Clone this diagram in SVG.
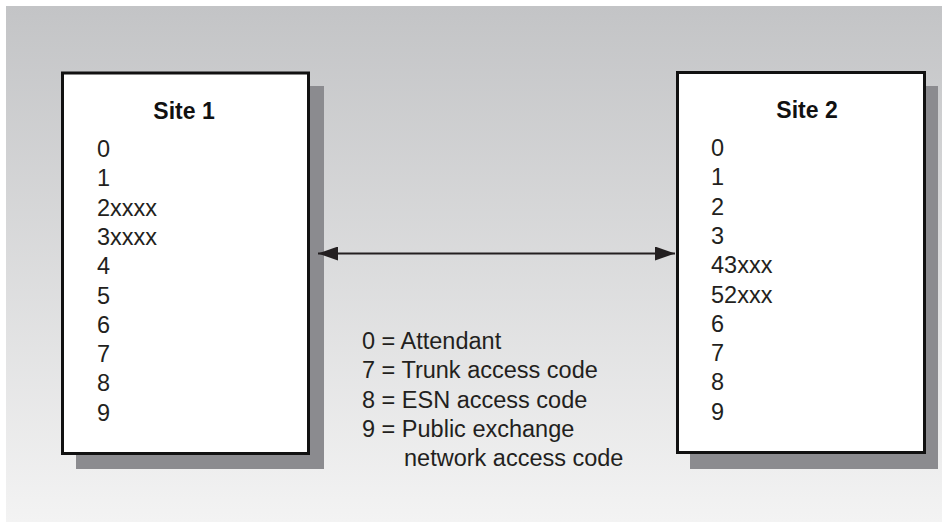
<svg xmlns="http://www.w3.org/2000/svg" width="943" height="522" viewBox="0 0 943 522">
  <defs>
    <linearGradient id="bg" x1="0" y1="0" x2="0" y2="1">
      <stop offset="0" stop-color="#c3c4c6"/>
      <stop offset="1" stop-color="#f3f3f3"/>
    </linearGradient>
    <marker id="ah" viewBox="0 0 20 14" refX="20" refY="7" markerWidth="20" markerHeight="14" markerUnits="userSpaceOnUse" orient="auto-start-reverse">
      <path d="M0,0 L20,7 L0,14 Z" fill="#231f20"/>
    </marker>
    <style>
      .shadow { fill: #8b8b8f; }
      .box { fill: #ffffff; stroke: #111111; stroke-width: 3; }
      .title { font-family: "Liberation Sans", Arial, sans-serif; font-size: 23px; font-weight: bold; fill: #111111; text-anchor: middle; }
      .item { font-family: "Liberation Sans", Arial, sans-serif; font-size: 23.5px; fill: #231f20; }
      .conn { stroke: #231f20; stroke-width: 2.2; fill: none; }
    </style>
  </defs>
  <rect x="0" y="0" width="943" height="522" fill="#ffffff"/>
  <rect x="6" y="6" width="936" height="516" fill="url(#bg)"/>

  <g id="site1">
    <rect class="shadow" x="76" y="86" width="248" height="383"/>
    <rect class="box" x="62.5" y="73" width="246" height="380.5"/>
    <text class="title" x="184" y="119">Site 1</text>
    <text class="item" x="97" y="157">0</text>
    <text class="item" x="97" y="186.3">1</text>
    <text class="item" x="97" y="215.6">2xxxx</text>
    <text class="item" x="97" y="244.9">3xxxx</text>
    <text class="item" x="97" y="274.2">4</text>
    <text class="item" x="97" y="303.5">5</text>
    <text class="item" x="97" y="332.8">6</text>
    <text class="item" x="97" y="362.1">7</text>
    <text class="item" x="97" y="391.4">8</text>
    <text class="item" x="97" y="420.7">9</text>
  </g>

  <g id="site2">
    <rect class="shadow" x="690" y="86" width="248" height="383"/>
    <rect class="box" x="677.5" y="72.5" width="247" height="380"/>
    <text class="title" x="807" y="118">Site 2</text>
    <text class="item" x="711" y="156">0</text>
    <text class="item" x="711" y="185.3">1</text>
    <text class="item" x="711" y="214.6">2</text>
    <text class="item" x="711" y="243.9">3</text>
    <text class="item" x="711" y="273.2">43xxx</text>
    <text class="item" x="711" y="302.5">52xxx</text>
    <text class="item" x="711" y="331.8">6</text>
    <text class="item" x="711" y="361.1">7</text>
    <text class="item" x="711" y="390.4">8</text>
    <text class="item" x="711" y="419.7">9</text>
  </g>

  <g id="connectors">
    <line class="conn" x1="318" y1="253.5" x2="675" y2="253.5" marker-start="url(#ah)" marker-end="url(#ah)"/>
  </g>

  <g id="legend">
    <text class="item" x="362" y="349">0 = Attendant</text>
    <text class="item" x="362" y="378.3">7 = Trunk access code</text>
    <text class="item" x="362" y="407.6">8 = ESN access code</text>
    <text class="item" x="362" y="436.9">9 = Public exchange</text>
    <text class="item" x="404" y="466.2">network access code</text>
  </g>
</svg>
